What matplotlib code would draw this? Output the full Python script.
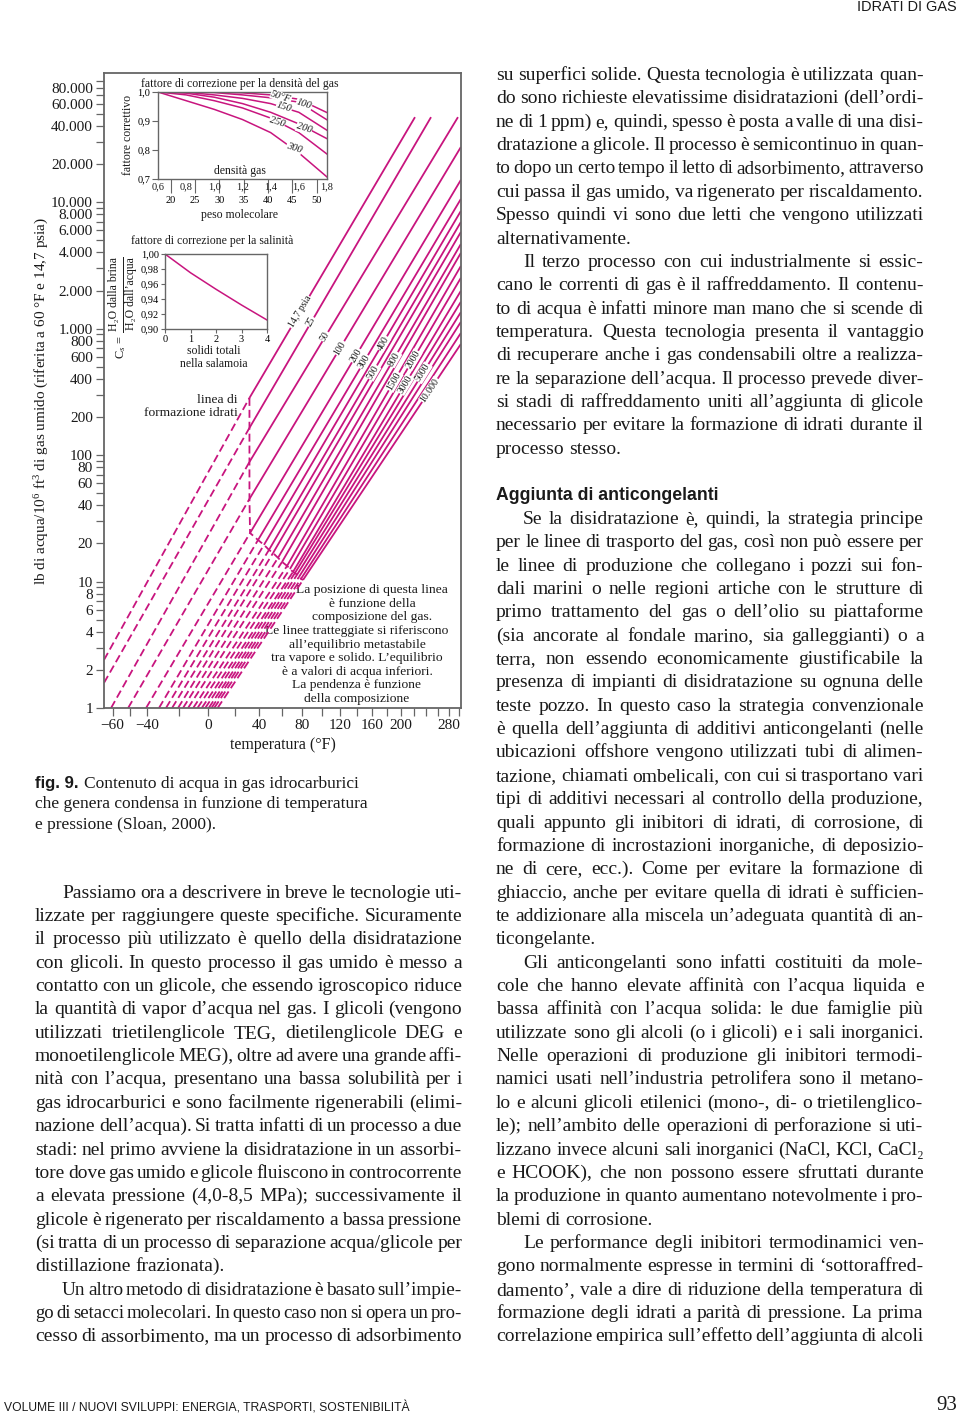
import numpy as np
import matplotlib
matplotlib.use('Agg')
import matplotlib.pyplot as plt
from matplotlib.font_manager import FontProperties
from matplotlib.ticker import FixedLocator, NullFormatter
from matplotlib.transforms import blended_transform_factory

SERIF = ['Liberation Serif', 'DejaVu Serif']
SANS = ['Liberation Sans', 'DejaVu Sans']
plt.rcParams['font.family'] = SERIF
plt.rcParams['mathtext.fontset'] = 'custom'
plt.rcParams['mathtext.rm'] = 'Liberation Serif'
plt.rcParams['mathtext.it'] = 'Liberation Serif:italic'

MAG = '#c8157e'
FRAME = '#666666'
INK = '#1a1a1a'

# ---------------- main chart: water content lines ----------------
pressures = [14.7, 25, 50, 100, 200, 300, 400, 500, 600, 800, 1000,
             1500, 2000, 3000, 4000, 5000, 6000, 8000, 10000]
# upper end of each solid line (deg F, lb/MMscf)
t_top = [221.5, 247.9, 297.2, 303, 303, 303, 303, 303, 303, 303, 303,
         303, 303, 303, 303, 303, 303, 303, 303]
w_top = [47000, 47000, 47000, 27300, 15000, 10600, 8520, 6970, 5810, 4670, 3970,
         3130, 2520, 1990, 1630, 1350, 1130, 924, 756]
# point on the hydrate formation line
t_hyd = [32, 32, 32, 32, 32.5, 39.2, 44.3, 48.7, 52.3, 56.8, 60.5,
         65.2, 68.0, 70.8, 72.8, 74.7, 76.7, 78.6, 80.7]
w_hyd = [283, 164, 88.2, 45.0, 24.2, 21.3, 19.5, 17.8, 16.8, 15.4, 14.3,
         13.3, 12.6, 11.9, 11.7, 11.3, 10.9, 10.5, 10.3]
# lower end of the dashed (metastable) part
t_low = [-64.6, -64.6, -60.8, -51.3, -40.8, -32.9, -28.5, -24.6, -20.7, -17.4, -14.0,
         -10.5, -7.5, -4.5, -2.0, 0.5, 2.5, 4.5, 7.0]
w_low = [2.40, 1.58, 1, 1, 1, 1, 1, 1, 1, 1, 1, 1, 1, 1, 1, 1, 1, 1, 1]

lab_text = ['14,7 psia', '25', '50', '100', '200', '300', '400', '500', '800',
            '1500', '2000', '3000', '5000', '10.000']
lab_t = [77.7, 88.8, 103.5, 120.3, 139.3, 149.2, 174.3, 160.9, 189.8,
         189.8, 218.3, 206.0, 234.4, 246.2]
lab_w = [1354, 1129, 867, 703, 611, 545, 766, 451, 575,
         382, 568, 361, 447, 325]
lab_rot = [59, 59.5, 59, 59, 59, 59, 59.5, 59.5, 60, 60, 59.5, 59, 58, 56]

x_major = [-60, -40, 0, 40, 80, 120, 160, 200, 280]
x_labels = ['\u221260', '\u221240', '0', '40', '80', '120', '160', '200', '280']
x_minor = [-50, -20, 20, 60, 100, 140, 180, 220, 240, 260, 300]
y_major = [1, 2, 4, 6, 8, 10, 20, 40, 60, 80, 100, 200, 400, 600, 800,
           1000, 2000, 4000, 6000, 8000, 10000, 20000, 40000, 60000, 80000]
y_minor = [3, 5, 7, 9, 30, 50, 70, 90, 300, 500, 700, 900, 3000, 5000, 7000, 9000,
           30000, 50000, 70000, 90000]

note_a = ['La posizione di questa linea', '\u00e8 funzione della', 'composizione del gas.']
note_b = ['Le linee tratteggiate si riferiscono', 'all\u2019equilibrio metastabile',
          'tra vapore e solido. L\u2019equilibrio', '\u00e8 a valori di acqua inferiori.',
          'La pendenza \u00e8 funzione', 'della composizione']

# ---------------- inset: gas density correction ----------------
density = [0.6, 0.8, 1.0, 1.2, 1.4, 1.6, 1.8]
dens_temps = ['50\u00b0F', '100', '150', '200', '250', '300']
dens_curves = [
    [1.0, 1.0, 1.0, 0.997, 0.99, 0.975, 0.929],
    [1.0, 1.0, 0.998, 0.99, 0.98, 0.965, 0.904],
    [1.0, 0.999, 0.99, 0.978, 0.96, 0.93, 0.868],
    [1.0, 0.996, 0.982, 0.96, 0.93, 0.89, 0.839],
    [1.0, 0.99, 0.97, 0.945, 0.91, 0.86, 0.786],
    [1.0, 0.97, 0.94, 0.905, 0.86, 0.79, 0.707],
]
dens_lab_x = [1.474, 1.637, 1.495, 1.637, 1.445, 1.566]
dens_lab_y = [0.984, 0.958, 0.948, 0.874, 0.896, 0.806]
mol_weights = [20, 25, 30, 35, 40, 45, 50]
dens_ticks = [0.6, 0.8, 1.0, 1.2, 1.4, 1.6, 1.8]

# ---------------- inset: salinity correction ----------------
solids = [0, 1, 2, 3, 4]
cs_vals = [1.0, 0.975, 0.953, 0.932, 0.912]

# ---------------- page text ----------------
left_par1 = [
    'Passiamo ora a descrivere in breve le tecnologie uti-',
    'lizzate per raggiungere queste specifiche. Sicuramente',
    'il processo pi\u00f9 utilizzato \u00e8 quello della disidratazione',
    'con glicoli. In questo processo il gas umido \u00e8 messo a',
    'contatto con un glicole, che essendo igroscopico riduce',
    'la quantit\u00e0 di vapor d\u2019acqua nel gas. I glicoli (vengono',
    'utilizzati trietilenglicole TEG, dietilenglicole DEG e',
    'monoetilenglicole MEG), oltre ad avere una grande affi-',
    'nit\u00e0 con l\u2019acqua, presentano una bassa solubilit\u00e0 per i',
    'gas idrocarburici e sono facilmente rigenerabili (elimi-',
    'nazione dell\u2019acqua). Si tratta infatti di un processo a due',
    'stadi: nel primo avviene la disidratazione in un assorbi-',
    'tore dove gas umido e glicole fluiscono in controcorrente',
    'a elevata pressione (4,0-8,5 MPa); successivamente il',
    'glicole \u00e8 rigenerato per riscaldamento a bassa pressione',
    '(si tratta di un processo di separazione acqua/glicole per',
    'distillazione frazionata).',
]
left_par2 = [
    'Un altro metodo di disidratazione \u00e8 basato sull\u2019impie-',
    'go di setacci molecolari. In questo caso non si opera un pro-',
    'cesso di assorbimento, ma un processo di adsorbimento',
]
right_par1 = [
    'su superfici solide. Questa tecnologia \u00e8 utilizzata quan-',
    'do sono richieste elevatissime disidratazioni (dell\u2019ordi-',
    'ne di 1 ppm) e, quindi, spesso \u00e8 posta a valle di una disi-',
    'dratazione a glicole. Il processo \u00e8 semicontinuo in quan-',
    'to dopo un certo tempo il letto di adsorbimento, attraverso',
    'cui passa il gas umido, va rigenerato per riscaldamento.',
    'Spesso quindi vi sono due letti che vengono utilizzati',
    'alternativamente.',
]
right_par2 = [
    'Il terzo processo con cui industrialmente si essic-',
    'cano le correnti di gas \u00e8 il raffreddamento. Il contenu-',
    'to di acqua \u00e8 infatti minore man mano che si scende di',
    'temperatura. Questa tecnologia presenta il vantaggio',
    'di recuperare anche i gas condensabili oltre a realizza-',
    're la separazione dell\u2019acqua. Il processo prevede diver-',
    'si stadi di raffreddamento uniti all\u2019aggiunta di glicole',
    'necessario per evitare la formazione di idrati durante il',
    'processo stesso.',
]
heading = 'Aggiunta di anticongelanti'
right_par3 = [
    'Se la disidratazione \u00e8, quindi, la strategia principe',
    'per le linee di trasporto del gas, cos\u00ec non pu\u00f2 essere per',
    'le linee di produzione che collegano i pozzi sui fon-',
    'dali marini o nelle regioni artiche con le strutture di',
    'primo trattamento del gas o dell\u2019olio su piattaforme',
    '(sia ancorate al fondale marino, sia galleggianti) o a',
    'terra, non essendo economicamente giustificabile la',
    'presenza di impianti di disidratazione su ognuna delle',
    'teste pozzo. In questo caso la strategia convenzionale',
    '\u00e8 quella dell\u2019aggiunta di additivi anticongelanti (nelle',
    'ubicazioni offshore vengono utilizzati tubi di alimen-',
    'tazione, chiamati ombelicali, con cui si trasportano vari',
    'tipi di additivi necessari al controllo della produzione,',
    'quali appunto gli inibitori di idrati, di corrosione, di',
    'formazione di incrostazioni inorganiche, di deposizio-',
    'ne di cere, ecc.). Come per evitare la formazione di',
    'ghiaccio, anche per evitare quella di idrati \u00e8 sufficien-',
    'te addizionare alla miscela un\u2019adeguata quantit\u00e0 di an-',
    'ticongelante.',
]
right_par4 = [
    'Gli anticongelanti sono infatti costituiti da mole-',
    'cole che hanno elevate affinit\u00e0 con l\u2019acqua liquida e',
    'bassa affinit\u00e0 con l\u2019acqua solida: le due famiglie pi\u00f9',
    'utilizzate sono gli alcoli (o i glicoli) e i sali inorganici.',
    'Nelle operazioni di produzione gli inibitori termodi-',
    'namici usati nell\u2019industria petrolifera sono il metano-',
    'lo e alcuni glicoli etilenici (mono-, di- o trietilenglico-',
    'le); nell\u2019ambito delle operazioni di perforazione si uti-',
    'lizzano invece alcuni sali inorganici (NaCl, KCl, CaCl\u2082',
    'e HCOOK), che non possono essere sfruttati durante',
    'la produzione in quanto aumentano notevolmente i pro-',
    'blemi di corrosione.',
]
right_par5 = [
    'Le performance degli inibitori termodinamici ven-',
    'gono normalmente espresse in termini di \u2018sottoraffred-',
    'damento\u2019, vale a dire di riduzione della temperatura di',
    'formazione degli idrati a parit\u00e0 di pressione. La prima',
    'correlazione empirica sull\u2019effetto dell\u2019aggiunta di alcoli',
]
caption = ['Contenuto di acqua in gas idrocarburici',
           'che genera condensa in funzione di temperatura',
           'e pressione (Sloan, 2000).']

# =================================================================
fig = plt.figure(figsize=(9.6, 14.16), dpi=100)
fig.patch.set_facecolor('white')
page = fig.add_axes([0, 0, 1, 1])
page.set_xlim(0, 960)
page.set_ylim(1416, 0)
page.axis('off')
renderer = fig.canvas.get_renderer()


def px_axes(x0, y0, x1, y1):
    return fig.add_axes([x0 / 960, 1 - y1 / 1416, (x1 - x0) / 960, (y1 - y0) / 1416])


def tw(s, fp):
    return renderer.get_text_width_height_descent(s, fp, ismath=False)[0]


def fit(s, fp, target):
    return fp.get_size_in_points() * target / tw(s, fp)


# ---------------- main chart ----------------
ax = px_axes(104, 73, 461, 708)
ax.patch.set_visible(False)


def fwd(t):
    return -1.0 / (np.asarray(t, float) + 460.0)


def inv(u):
    return -1.0 / np.asarray(u, float) - 460.0


ax.set_xscale('function', functions=(fwd, inv))
ax.set_yscale('log')
ax.set_xlim(-64.6, 303.2)
ax.set_ylim(1, 105000)

for i in range(len(pressures)):
    ax.plot([t_hyd[i], t_top[i]], [w_hyd[i], w_top[i]], color=MAG, lw=1.3,
            solid_capstyle='butt')
    ax.plot([t_low[i], t_hyd[i]], [w_low[i], w_hyd[i]], color=MAG, lw=1.3,
            dashes=(4.4, 2.2))
ax.plot(t_hyd, w_hyd, color=MAG, lw=1.3, dashes=(4.4, 2.2))

for s, t, w, r in zip(lab_text, lab_t, lab_w, lab_rot):
    ax.text(t, w, s, rotation=r, rotation_mode='anchor', ha='center', va='center',
            fontsize=7, color=INK, zorder=5,
            bbox=dict(fc='white', ec='none', pad=0.4))

ax.set_xticks(x_major, x_labels)
ax.xaxis.set_minor_locator(FixedLocator(x_minor))
ax.xaxis.set_minor_formatter(NullFormatter())
ax.set_yticks(y_major, [f'{v:,}'.replace(',', '.') for v in y_major])
ax.yaxis.set_minor_locator(FixedLocator(y_minor))
ax.yaxis.set_minor_formatter(NullFormatter())
ax.tick_params(axis='both', which='both', direction='out', length=6, width=0.9,
               color=FRAME, labelsize=11, labelcolor=INK, pad=2)
for sp in ax.spines.values():
    sp.set_color(FRAME)
    sp.set_linewidth(1.3)
ax.set_ylabel(r'lb di acqua/10$^{6}$ ft$^{3}$ di gas umido (riferita a 60 °F e 14,7 psia)',
              fontsize=11, color=INK, va='center')
ax.yaxis.set_label_coords((42 - 104) / 357, (708 - 401) / 635)
ax.set_xlabel('temperatura (\u00b0F)', fontsize=11.5, color=INK, va='center')
ax.xaxis.set_label_coords(0.5, (708 - 745) / 635)

# notes inside the chart
fp_note = FontProperties(family=SERIF, size=9)
note_size = fit(note_a[0], fp_note, 151)
for k, s in enumerate(note_a):
    page.text(372, 590 + 13.6 * k, s, ha='center', va='center', fontsize=note_size, color=INK)
for k, s in enumerate(note_b):
    page.text(357, 631 + 13.6 * k, s, ha='center', va='center', fontsize=note_size, color=INK)
page.text(238, 400, 'linea di', ha='right', va='center', fontsize=note_size, color=INK)
page.text(238, 413, 'formazione idrati', ha='right', va='center', fontsize=note_size, color=INK)

# ---------------- inset 1 ----------------
ax1 = px_axes(158, 92, 327, 179)
ax1.set_xlim(0.6, 1.8)
ax1.set_ylim(0.7, 1.0)
for c in dens_curves:
    ax1.plot(density, c, color=MAG, lw=1.1)
for s, x, y in zip(dens_temps, dens_lab_x, dens_lab_y):
    ax1.text(x, y, s, rotation=-18, ha='center', va='center', fontsize=7.5,
             style='italic', color=INK, bbox=dict(fc='white', ec='none', pad=0.2))
ax1.set_yticks([0.7, 0.8, 0.9, 1.0], ['0,7', '0,8', '0,9', '1,0'])
ax1.set_xticks([m / 28.97 for m in mol_weights], [str(m) for m in mol_weights])
ax1.tick_params(axis='y', direction='out', length=4, width=0.8, color=FRAME,
                labelsize=7.5, pad=1.5)
ax1.tick_params(axis='x', direction='out', length=10, width=0.8, color=FRAME,
                labelsize=7.5, pad=2)
for sp in ax1.spines.values():
    sp.set_color(FRAME)
    sp.set_linewidth(1.0)
bt1 = blended_transform_factory(ax1.transData, ax1.transAxes)
for d in dens_ticks:
    ax1.text(d, -0.095, f'{d:.1f}'.replace('.', ','), transform=bt1, ha='center',
             va='center', fontsize=7.5, color=INK, clip_on=False)
fp_small = FontProperties(family=SERIF, size=7.5)
t1_size = fit('fattore di correzione per la densit\u00e0 del gas', fp_small, 197)
ax1.text(0.482, 1.092, 'fattore di correzione per la densit\u00e0 del gas',
         transform=ax1.transAxes, ha='center', va='center', fontsize=t1_size, color=INK)
ax1.text(0.485, 0.092, 'densit\u00e0 gas', transform=ax1.transAxes, ha='center',
         va='center', fontsize=t1_size, color=INK)
ax1.text(0.485, -0.414, 'peso molecolare', transform=ax1.transAxes, ha='center',
         va='center', fontsize=t1_size, color=INK)
ax1.text(-0.178, 0.506, 'fattore correttivo', transform=ax1.transAxes, rotation=90,
         ha='center', va='center', fontsize=t1_size, color=INK)

# ---------------- inset 2 ----------------
ax2 = px_axes(165, 254, 267, 329)
ax2.set_xlim(0, 4)
ax2.set_ylim(0.90, 1.00)
ax2.plot(solids, cs_vals, color=MAG, lw=1.1)
cs_ticks = [0.90, 0.92, 0.94, 0.96, 0.98, 1.00]
ax2.set_yticks(cs_ticks, [f'{v:.2f}'.replace('.', ',') for v in cs_ticks])
ax2.set_xticks(solids, [str(s) for s in solids])
ax2.tick_params(axis='both', direction='out', length=3, width=0.8, color=FRAME,
                labelsize=7.5, pad=1.5)
for sp in ax2.spines.values():
    sp.set_color(FRAME)
    sp.set_linewidth(1.0)
ax2.text(0.461, 1.173, 'fattore di correzione per la salinit\u00e0', transform=ax2.transAxes,
         ha='center', va='center', fontsize=t1_size, color=INK)
ax2.text(0.48, -0.293, 'solidi totali', transform=ax2.transAxes, ha='center',
         va='center', fontsize=t1_size, color=INK)
ax2.text(0.48, -0.467, 'nella salamoia', transform=ax2.transAxes, ha='center',
         va='center', fontsize=t1_size, color=INK)
page.text(114, 294, 'H\u2082O dalla brina', rotation=90, ha='center', va='center',
          fontsize=t1_size, color=INK)
page.plot([122.5, 122.5], [257, 332], color=INK, lw=0.7)
page.text(131, 294, 'H\u2082O dall\u2019acqua', rotation=90, ha='center', va='center',
          fontsize=t1_size, color=INK)
page.text(121, 347, 'C$_s$ =', rotation=90, ha='center', va='center',
          fontsize=t1_size + 0.5, color=INK)

# ---------------- caption ----------------
fp_cap = FontProperties(family=SERIF, size=12)
cap_size = fit(caption[1], fp_cap, 332)
fp_cap = FontProperties(family=SERIF, size=cap_size)
fp_fig = FontProperties(family=SANS, size=cap_size - 0.5, weight='bold')
page.text(35, 788, 'fig. 9.', fontproperties=fp_fig, va='baseline', color=INK)
wfig = tw('fig. 9.', fp_fig)
page.text(35 + wfig + 5, 788, caption[0], fontproperties=fp_cap, va='baseline', color=INK)
page.text(35, 808.5, caption[1], fontproperties=fp_cap, va='baseline', color=INK)
page.text(35, 829, caption[2], fontproperties=fp_cap, va='baseline', color=INK)

# ---------------- body text ----------------
ROW0, ROWH = 75, 23.36
LX0, LX1 = 35, 462
RX0, RX1 = 496, 923.5

# pick the body size so a typical justified line has ordinary word spacing
fp12 = FontProperties(family=SERIF, size=12)
ratios = []
for lines, x0, x1 in [(left_par1, LX0, LX1), (left_par2, LX0, LX1), (right_par1, RX0, RX1),
                      (right_par2, RX0, RX1), (right_par3, RX0, RX1), (right_par4, RX0, RX1),
                      (right_par5, RX0, RX1)]:
    for k, s in enumerate(lines[:-1]):
        avail = x1 - x0 - (27 if k == 0 else 0)
        ratios.append(avail / tw(s, fp12))
BODY = 12 * float(np.median(ratios)) * 0.985
fp_body = FontProperties(family=SERIF, size=BODY)


def put_line(x0, x1, y, s, justify):
    fp = fp_body
    words = s.split(' ')
    ws = [tw(w, fp) for w in words]
    if justify and len(words) > 1:
        need = sum(ws) + 2.5 * (len(words) - 1)
        if need > x1 - x0:
            fp = FontProperties(family=SERIF, size=BODY * (x1 - x0) / need)
            ws = [tw(w, fp) for w in words]
        gap = (x1 - x0 - sum(ws)) / (len(words) - 1)
    else:
        gap = tw('a b', fp) - tw('ab', fp)
    x = x0
    for w, wd in zip(words, ws):
        page.text(x, y, w, fontproperties=fp, va='baseline', ha='left', color=INK)
        x += wd + gap


def put_par(x0, x1, row, lines, indent=True, justify_last=False):
    for k, s in enumerate(lines):
        xs = x0 + (27 if (indent and k == 0) else 0)
        last = (k == len(lines) - 1)
        put_line(xs, x1, ROW0 + (row + k) * ROWH + 5, s, (not last) or justify_last)


put_par(LX0, LX1, 35, left_par1)
put_par(LX0, LX1, 52, left_par2, justify_last=True)
put_par(RX0, RX1, 0, right_par1, indent=False)
put_par(RX0, RX1, 8, right_par2)
fp_head = FontProperties(family=SANS, size=12, weight='bold')
fp_head = FontProperties(family=SANS, size=fit(heading, fp_head, 220), weight='bold')
page.text(RX0, ROW0 + 18 * ROWH + 5, heading, va='baseline', color=INK, fontproperties=fp_head)
put_par(RX0, RX1, 19, right_par3)
put_par(RX0, RX1, 38, right_par4)
put_par(RX0, RX1, 50, right_par5, justify_last=True)

# ---------------- header / footer ----------------
fp_h = FontProperties(family=SANS, size=8.5)
page.text(957, 7, 'IDRATI DI GAS', ha='right', va='center', color=INK,
          fontsize=fit('IDRATI DI GAS', fp_h, 99), family=SANS)
foot = 'VOLUME III / NUOVI SVILUPPI: ENERGIA, TRASPORTI, SOSTENIBILIT\u00c0'
page.text(4, 1408, foot, ha='left', va='center', color=INK,
          fontsize=fit(foot, fp_h, 404), family=SANS)
page.text(957, 1405, '93', ha='right', va='center', fontsize=15, color=INK)

fig.savefig('out.png', dpi=100, facecolor='white')
